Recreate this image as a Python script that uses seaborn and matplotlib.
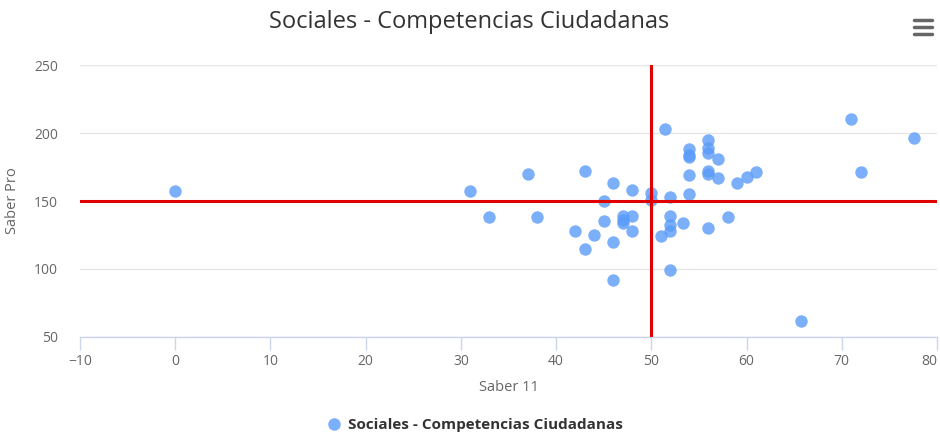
import matplotlib
matplotlib.use("Agg")
import matplotlib.pyplot as plt
import seaborn as sns
import pandas as pd
from matplotlib.lines import Line2D

# ---- data ----
saber11 = [0, 31, 33, 37, 38, 43, 42, 43, 44, 45, 45, 46, 46, 46, 47, 47, 47,
           48, 48, 48, 50, 50, 51.4, 51, 52, 52, 52, 52, 52, 53.3,
           54, 54, 54, 54, 54, 56, 56, 56, 56, 56, 56, 57, 57, 58, 59, 60, 61,
           65.7, 71, 72, 77.6]
saberpro = [157, 157, 138, 170, 138, 172, 128, 115, 125, 150, 135, 163, 120, 92, 139, 136, 134,
            158, 139, 128, 156, 151, 203, 124, 153, 139, 132, 128, 99, 134,
            188, 184, 182, 169, 155, 195, 189, 185, 172, 170, 130, 181, 167, 138, 163, 168, 171,
            62, 210, 171, 196]
series_name = "Sociales - Competencias Ciudadanas"
x_ticks = [-10, 0, 10, 20, 30, 40, 50, 60, 70, 80]
y_ticks = [50, 100, 150, 200, 250]
x_ref = 50
y_ref = 150

df = pd.DataFrame({"Saber 11": saber11, "Saber Pro": saberpro})

sns.set_theme(style="white")
plt.rcParams["font.family"] = ["Open Sans", "DejaVu Sans"]

W, H = 940, 434
fig = plt.figure(figsize=(W / 100, H / 100), dpi=100)
ax = fig.add_axes([80 / W, 1 - 337 / H, (937 - 80) / W, (337 - 65) / H])

point_color = "#5a9bf9"
sns.scatterplot(data=df, x="Saber 11", y="Saber Pro", ax=ax, s=80,
                color=point_color, alpha=0.8, linewidth=0, zorder=3)

ax.axvline(x_ref, color="#e00000", lw=2.2, zorder=4)
ax.axhline(y_ref, color="#e00000", lw=2.2, zorder=4)

ax.set_xlim(-10, 80)
ax.set_ylim(50, 250)
ax.set_xticks(x_ticks)
ax.set_yticks(y_ticks)
ax.set_xticklabels([str(t).replace("-", "\u2212") for t in x_ticks])
ax.get_xticklabels()[-1].set_horizontalalignment("right")
ax.grid(axis="y", color="#e6e6e6", lw=1)
ax.grid(axis="x", visible=False)
ax.set_axisbelow(True)
for s in ["top", "right", "left"]:
    ax.spines[s].set_visible(False)
ax.spines["bottom"].set_color("#ccd6eb")
ax.spines["bottom"].set_linewidth(1)
ax.tick_params(axis="x", colors="#666666", labelsize=10, length=9, width=1,
               direction="out", pad=3, bottom=True, labelcolor="#666666")
ax.tick_params(axis="x", color="#ccd6eb")
ax.tick_params(axis="y", colors="#666666", labelsize=10, length=0, pad=16)

ax.set_xlabel("Saber 11", color="#666666", fontsize=10.5, labelpad=8)
ax.set_ylabel("Saber Pro", color="#666666", fontsize=10.5, labelpad=10)

fig.text(469 / W, 1 - 22 / H, series_name, ha="center", va="center",
         fontsize=17, color="#333333")

# legend
leg_handle = Line2D([], [], marker="o", linestyle="", markersize=9,
                    markerfacecolor=point_color, markeredgewidth=0, alpha=0.8)
leg = fig.legend([leg_handle], [series_name], loc="center",
                 bbox_to_anchor=(474 / W, 1 - 425 / H), frameon=False,
                 prop={"weight": "bold", "size": 11}, handletextpad=0.3,
                 handlelength=1.2)
for t in leg.get_texts():
    t.set_color("#333333")

# menu icon
for yy in [20, 27, 34]:
    fig.add_artist(Line2D([914 / W, 932 / W], [1 - yy / H, 1 - yy / H],
                          color="#666666", lw=2.5, solid_capstyle="round"))

fig.savefig("out.png", dpi=100)
